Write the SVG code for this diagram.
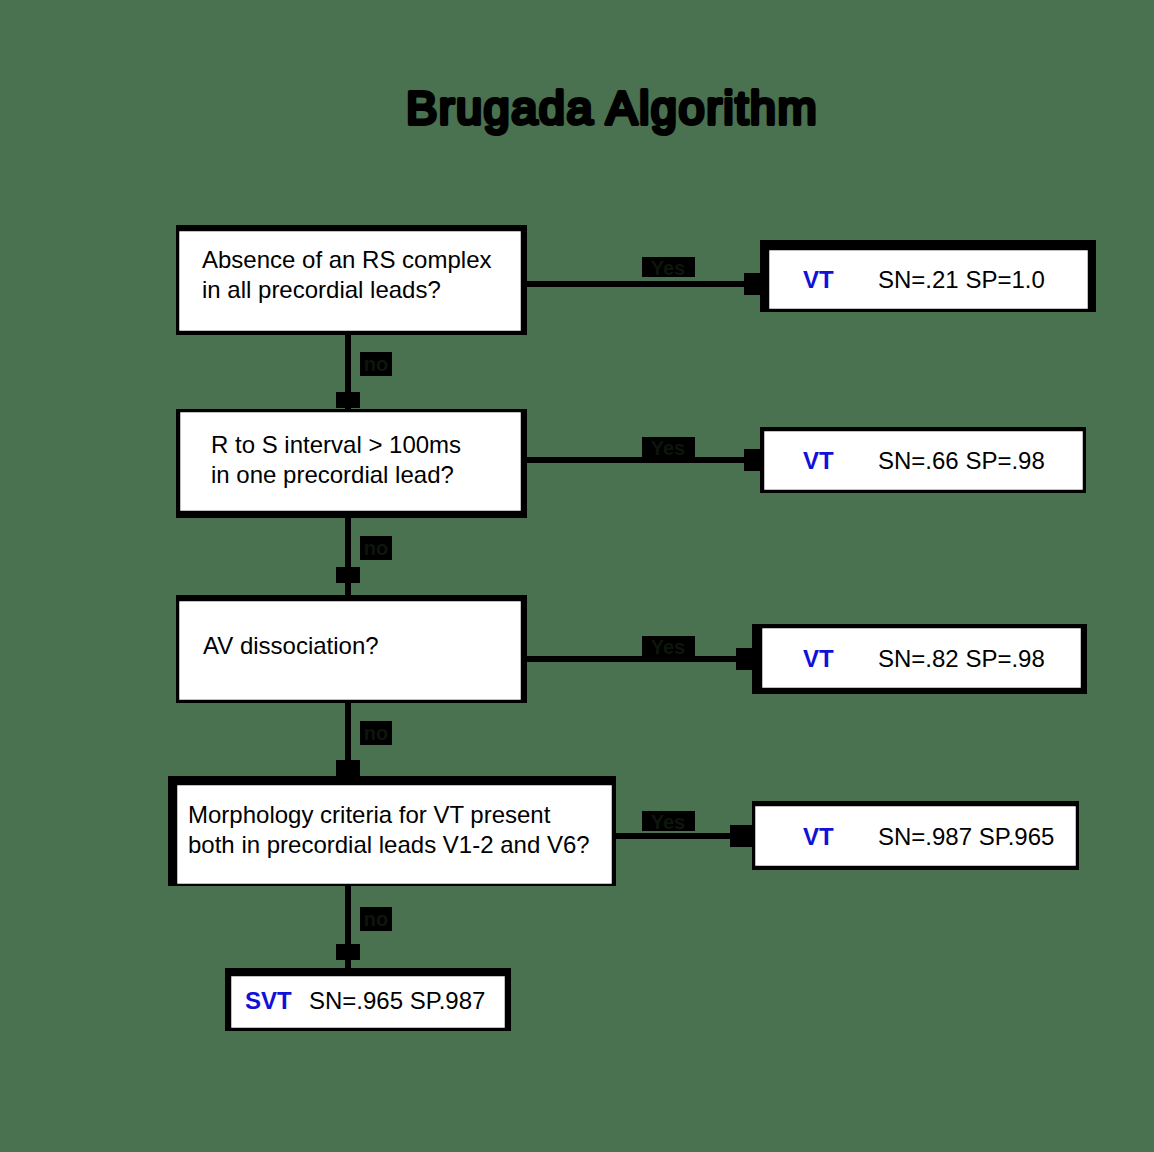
<svg xmlns="http://www.w3.org/2000/svg" width="1154" height="1152" viewBox="0 0 1154 1152">
<style>
.bg{fill:#4a7250}
.outer{fill:#000}
.inner{fill:#fff;stroke:#000;stroke-width:1.5}
.t{font-family:"Liberation Sans",Arial,sans-serif;font-size:24px;fill:#000}
.vt{font-family:"Liberation Sans",Arial,sans-serif;font-size:24px;font-weight:bold;fill:#1010d8}
.title{font-family:"Liberation Sans",Arial,sans-serif;font-size:47px;letter-spacing:1.5px;fill:#000;stroke:#000;stroke-width:4;stroke-linejoin:round}
.edge{stroke:#000;stroke-width:6;fill:none}
.lblbox{fill:#000}
.lbl{font-family:"Liberation Sans",Arial,sans-serif;font-size:20px;font-weight:bold;fill:#0c160c}
.head{fill:#000}
</style>
<rect class="bg" x="0" y="0" width="1154" height="1152"/>
<text class="title" x="612" y="124" text-anchor="middle">Brugada Algorithm</text>

<g id="connectors">
  <line class="edge" x1="527" y1="284" x2="748" y2="284"/>
  <rect class="head" x="744" y="273" width="18" height="22"/>
  <line class="edge" x1="527" y1="460" x2="748" y2="460"/>
  <rect class="head" x="744" y="449" width="18" height="22"/>
  <line class="edge" x1="527" y1="659" x2="740" y2="659"/>
  <rect class="head" x="736" y="648" width="18" height="22"/>
  <line class="edge" x1="616" y1="836" x2="736" y2="836"/>
  <rect class="head" x="730" y="825" width="22" height="22"/>

  <line class="edge" x1="348" y1="335" x2="348" y2="409"/>
  <rect class="head" x="336" y="392" width="24" height="16"/>
  <line class="edge" x1="348" y1="518" x2="348" y2="595"/>
  <rect class="head" x="336" y="567" width="24" height="16"/>
  <line class="edge" x1="348" y1="703" x2="348" y2="776"/>
  <rect class="head" x="336" y="760" width="24" height="16"/>
  <line class="edge" x1="348" y1="886" x2="348" y2="968"/>
  <rect class="head" x="336" y="944" width="24" height="16"/>

  <rect class="lblbox" x="642" y="257" width="53" height="20"/>
  <text class="lbl" x="668" y="275" text-anchor="middle">Yes</text>
  <rect class="lblbox" x="642" y="437" width="53" height="20"/>
  <text class="lbl" x="668" y="455" text-anchor="middle">Yes</text>
  <rect class="lblbox" x="642" y="636" width="53" height="20"/>
  <text class="lbl" x="668" y="654" text-anchor="middle">Yes</text>
  <rect class="lblbox" x="642" y="811" width="53" height="20"/>
  <text class="lbl" x="668" y="829" text-anchor="middle">Yes</text>

  <rect class="lblbox" x="360" y="352" width="32" height="24"/>
  <text class="lbl" x="376" y="371" text-anchor="middle">no</text>
  <rect class="lblbox" x="360" y="536" width="32" height="24"/>
  <text class="lbl" x="376" y="555" text-anchor="middle">no</text>
  <rect class="lblbox" x="360" y="721" width="32" height="24"/>
  <text class="lbl" x="376" y="740" text-anchor="middle">no</text>
  <rect class="lblbox" x="360" y="907" width="32" height="24"/>
  <text class="lbl" x="376" y="926" text-anchor="middle">no</text>
</g>

<g id="q1">
  <rect class="outer" x="176" y="225" width="351" height="110"/>
  <rect class="inner" x="178.5" y="230.5" width="343" height="101"/>
  <text class="t" x="202" y="268">Absence of an RS complex</text>
  <text class="t" x="202" y="298">in all precordial leads?</text>
</g>
<g id="q2">
  <rect class="outer" x="176" y="409" width="351" height="109"/>
  <rect class="inner" x="179.5" y="411.5" width="342" height="100"/>
  <text class="t" x="211" y="453">R to S interval &gt; 100ms</text>
  <text class="t" x="211" y="483">in one precordial lead?</text>
</g>
<g id="q3">
  <rect class="outer" x="176" y="595" width="351" height="108"/>
  <rect class="inner" x="178.5" y="600.5" width="343" height="100"/>
  <text class="t" x="203" y="654">AV dissociation?</text>
</g>
<g id="q4">
  <rect class="outer" x="168" y="776" width="448" height="110"/>
  <rect class="inner" x="176.5" y="784.5" width="436" height="100"/>
  <text class="t" x="188" y="823">Morphology criteria for VT present</text>
  <text class="t" x="188" y="853">both in precordial leads V1-2 and V6?</text>
</g>
<g id="svt">
  <rect class="outer" x="225" y="968" width="286" height="63"/>
  <rect class="inner" x="230.5" y="975.5" width="275" height="53"/>
  <text class="vt" x="245" y="1009">SVT</text>
  <text class="t" x="309" y="1009">SN=.965 SP.987</text>
</g>
<g id="r1">
  <rect class="outer" x="760" y="240" width="336" height="72"/>
  <rect class="inner" x="768.5" y="249.5" width="320" height="60"/>
  <text class="vt" x="803" y="288">VT</text>
  <text class="t" x="878" y="288">SN=.21 SP=1.0</text>
</g>
<g id="r2">
  <rect class="outer" x="760" y="427" width="326" height="66"/>
  <rect class="inner" x="763.5" y="430.5" width="320" height="60"/>
  <text class="vt" x="803" y="469">VT</text>
  <text class="t" x="878" y="469">SN=.66 SP=.98</text>
</g>
<g id="r3">
  <rect class="outer" x="752" y="624" width="335" height="70"/>
  <rect class="inner" x="761.5" y="627.5" width="320" height="61"/>
  <text class="vt" x="803" y="667">VT</text>
  <text class="t" x="878" y="667">SN=.82 SP=.98</text>
</g>
<g id="r4">
  <rect class="outer" x="752" y="801" width="327" height="69"/>
  <rect class="inner" x="754.5" y="805.5" width="322" height="61"/>
  <text class="vt" x="803" y="845">VT</text>
  <text class="t" x="878" y="845">SN=.987 SP.965</text>
</g>
</svg>
